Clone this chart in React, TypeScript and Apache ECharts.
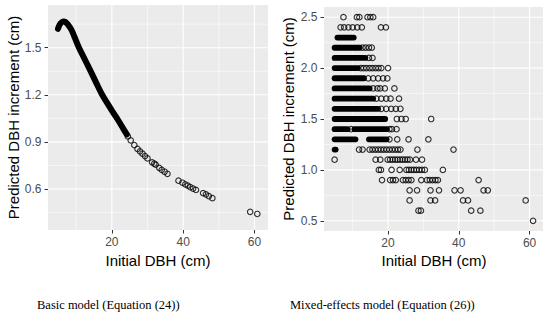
import React, { useEffect, useRef } from "react";
import * as echarts from "echarts";

// ---- Left panel: Basic model ----
// dense part of the predicted curve (read along the thick black band)
const basicCurveX = [4.9, 5.4, 6.0, 6.6, 7.3, 8.0, 8.7, 9.6, 10.8, 12.0, 13.5, 15.0, 16.2, 17.3, 18.5, 20.3, 22.0, 23.2, 24.2];
const basicCurveY = [1.62, 1.648, 1.663, 1.667, 1.657, 1.638, 1.613, 1.565, 1.5, 1.445, 1.376, 1.306, 1.25, 1.2, 1.155, 1.09, 1.03, 0.985, 0.948];
// separate points of the tail
const basicX = [24.5, 25.3, 26.3, 27.2, 27.9, 28.6, 29.3, 30.0, 31.3, 31.9, 32.3, 33.3, 34.0, 34.8, 35.6, 38.7, 39.8, 40.6, 41.3, 42.0, 42.8, 43.6, 45.6, 46.4, 47.2, 48.2, 58.8, 60.8];
const basicY = [0.935, 0.91, 0.88, 0.855, 0.84, 0.825, 0.81, 0.795, 0.77, 0.762, 0.755, 0.735, 0.722, 0.71, 0.697, 0.653, 0.64, 0.63, 0.622, 0.612, 0.603, 0.594, 0.574, 0.566, 0.555, 0.542, 0.455, 0.441];

// ---- Right panel: Mixed-effects model ----
const mixedRowValues = [2.5, 2.4, 2.2, 2.1, 2.0, 1.9, 1.8, 1.7, 1.6, 1.5, 1.4, 1.3, 1.2, 1.1, 1.0, 0.9, 0.8, 0.7, 0.6, 0.5];
const mixedRowX: number[][] = [
  [7.4, 11.2, 11.9, 14.2, 15.0, 15.8],
  [6.6, 7.6, 8.8, 10.0, 11.3, 12.6, 18.0, 19.4],
  [12.8, 13.7, 14.6, 15.4],
  [14.6, 15.6],
  [12.3, 13.1, 13.9, 14.8, 15.6, 16.5, 17.3, 18.1, 20.0],
  [14.4, 15.8, 17.2, 18.6, 19.8],
  [15.8, 17.0, 17.8, 19.1, 21.8],
  [16.7, 18.1, 19.5, 20.7, 23.1],
  [18.1, 19.5, 20.9, 22.2, 23.5],
  [22.5, 23.8, 25.0, 32.2],
  [9.6, 20.4, 21.1, 22.4],
  [20.4, 22.6, 25.8, 31.4],
  [11.8, 12.8, 14.8, 15.6, 16.4, 17.2, 18.0, 18.8, 19.6, 20.4, 21.2, 22.0, 22.8, 23.5, 28.3, 38.5],
  [4.9, 16.5, 17.8, 19.9, 20.6, 21.3, 22.0, 22.7, 23.4, 24.1, 24.8, 25.5, 26.2, 27.9, 29.6],
  [17.4, 18.0, 21.0, 23.3, 25.2, 25.9, 26.6, 27.3, 28.0, 28.8, 29.6, 30.4, 35.5],
  [18.3, 20.6, 21.4, 22.2, 24.2, 25.0, 25.8, 26.6, 29.4, 31.0, 31.8, 32.6, 33.4, 34.1, 45.6],
  [26.1, 28.2, 32.0, 34.4, 38.8, 40.5, 47.0, 48.2],
  [26.1, 32.0, 33.3, 41.2, 42.6, 58.9],
  [28.6, 29.3, 43.5, 46.1],
  [61.0],
];
// densely overplotted runs (solid black bands)
const mixedSegY = [2.3, 2.2, 2.1, 2.0, 1.9, 1.8, 1.7, 1.6, 1.5, 1.4, 1.4, 1.3, 1.3, 1.2];
const mixedSegStart = [5.7, 4.9, 4.9, 4.9, 4.9, 4.9, 4.9, 4.9, 4.9, 4.9, 10.5, 4.9, 14.6, 4.9];
const mixedSegEnd = [10.3, 12.0, 13.6, 11.5, 13.2, 14.8, 15.8, 17.2, 19.2, 8.6, 19.6, 10.8, 19.6, 5.2];

// ---- axes ----
const xTicks = [20, 40, 60];
const xMinor = [10, 30, 50];
const leftYTicks = [0.6, 0.9, 1.2, 1.5];
const leftYMinor = [0.45, 0.75, 1.05, 1.35, 1.65];
const rightYTicks = [0.5, 1.0, 1.5, 2.0, 2.5];
const rightYMinor = [0.75, 1.25, 1.75, 2.25];

const FONT = "Liberation Sans";

function gridLines(idx: number, xs: number[], xsMinor: number[], ys: number[], ysMinor: number[], xMid: number, yMid: number) {
  const data: number[][] = [
    ...xsMinor.map((v) => [v, yMid, 0, 1]),
    ...ysMinor.map((v) => [xMid, v, 0, 0]),
    ...xs.map((v) => [v, yMid, 1, 1]),
    ...ys.map((v) => [xMid, v, 1, 0]),
  ];
  return {
    type: "custom",
    xAxisIndex: idx,
    yAxisIndex: idx,
    z: 1,
    silent: true,
    data,
    renderItem: (params: any, api: any) => {
      const cs = params.coordSys;
      const p = api.coord([api.value(0), api.value(1)]);
      const major = api.value(2) === 1;
      const vertical = api.value(3) === 1;
      const shape = vertical
        ? { x1: p[0], y1: cs.y, x2: p[0], y2: cs.y + cs.height }
        : { x1: cs.x, y1: p[1], x2: cs.x + cs.width, y2: p[1] };
      return { type: "line", shape, style: { stroke: "#FFFFFF", lineWidth: major ? 1.1 : 0.55 } };
    },
  };
}

function xAxisCfg(idx: number, min: number, max: number) {
  return {
    type: "value",
    gridIndex: idx,
    min,
    max,
    axisLine: { show: false },
    splitLine: { show: false },
    axisTick: { show: true, length: 3.5, customValues: xTicks, lineStyle: { color: "#333333", width: 1 } },
    axisLabel: { customValues: xTicks, color: "#4D4D4D", fontSize: 12, margin: 6, fontFamily: FONT },
  };
}

function yAxisCfg(idx: number, min: number, max: number, ticks: number[]) {
  return {
    type: "value",
    gridIndex: idx,
    min,
    max,
    axisLine: { show: false },
    splitLine: { show: false },
    axisTick: { show: true, length: 3.5, customValues: ticks, lineStyle: { color: "#333333", width: 1 } },
    axisLabel: {
      customValues: ticks,
      color: "#4D4D4D",
      fontSize: 12,
      margin: 6.5,
      fontFamily: FONT,
      formatter: (v: number) => v.toFixed(1),
    },
  };
}

export default function App() {
  const ref = useRef<HTMLDivElement>(null);
  useEffect(() => {
    if (!ref.current) return;
    const chart = echarts.init(ref.current, undefined, { renderer: "svg" });

    const curveData = basicCurveX.map((x, i) => [x, basicCurveY[i]]);
    const basicPts = basicX.map((x, i) => [x, basicY[i]]);
    const mixedPts: number[][] = [];
    mixedRowValues.forEach((y, r) => mixedRowX[r].forEach((x) => mixedPts.push([x, y])));
    const segData = mixedSegY.map((y, i) => [mixedSegStart[i], y, mixedSegEnd[i]]);

    const pointStyle = { color: "rgba(0,0,0,0)", borderColor: "#000000", borderWidth: 1.15 };

    const option: any = {
      animation: false,
      textStyle: { fontFamily: FONT },
      grid: [
        { left: 48, top: 5, width: 220, height: 225, show: true, backgroundColor: "#EBEBEB", borderWidth: 0 },
        { left: 324, top: 7, width: 219, height: 224, show: true, backgroundColor: "#EBEBEB", borderWidth: 0 },
      ],
      xAxis: [xAxisCfg(0, 2.1, 63.8), xAxisCfg(1, 1.9, 63.8)],
      yAxis: [yAxisCfg(0, 0.339, 1.772, leftYTicks), yAxisCfg(1, 0.4, 2.6, rightYTicks)],
      series: [
        gridLines(0, xTicks, xMinor, leftYTicks, leftYMinor, 30, 1),
        gridLines(1, xTicks, xMinor, rightYTicks, rightYMinor, 30, 1.5),
        {
          type: "line",
          xAxisIndex: 0,
          yAxisIndex: 0,
          z: 2,
          data: curveData,
          smooth: true,
          symbol: "none",
          silent: true,
          lineStyle: { color: "#000000", width: 6, cap: "round" },
        },
        {
          type: "scatter",
          xAxisIndex: 0,
          yAxisIndex: 0,
          z: 3,
          data: basicPts,
          symbol: "circle",
          symbolSize: 5.5,
          itemStyle: pointStyle,
          silent: true,
        },
        {
          type: "custom",
          xAxisIndex: 1,
          yAxisIndex: 1,
          z: 2,
          silent: true,
          data: segData,
          renderItem: (params: any, api: any) => {
            const p1 = api.coord([api.value(0), api.value(1)]);
            const p2 = api.coord([api.value(2), api.value(1)]);
            return {
              type: "line",
              shape: { x1: p1[0], y1: p1[1], x2: p2[0], y2: p2[1] },
              style: { stroke: "#000000", lineWidth: 5.8, lineCap: "round" },
            };
          },
        },
        {
          type: "scatter",
          xAxisIndex: 1,
          yAxisIndex: 1,
          z: 3,
          data: mixedPts,
          symbol: "circle",
          symbolSize: 5.5,
          itemStyle: pointStyle,
          silent: true,
        },
      ],
      graphic: [
        { type: "text", x: 13, y: 117.5, rotation: Math.PI / 2, style: { text: "Predicted DBH increment (cm)", fontSize: 15, fontFamily: FONT, fill: "#000000", align: "center", verticalAlign: "middle" } },
        { type: "text", x: 288, y: 119, rotation: Math.PI / 2, style: { text: "Predicted DBH increment (cm)", fontSize: 15, fontFamily: FONT, fill: "#000000", align: "center", verticalAlign: "middle" } },
        { type: "text", x: 158, y: 260, style: { text: "Initial DBH (cm)", fontSize: 15, fontFamily: FONT, fill: "#000000", align: "center", verticalAlign: "middle" } },
        { type: "text", x: 434, y: 260, style: { text: "Initial DBH (cm)", fontSize: 15, fontFamily: FONT, fill: "#000000", align: "center", verticalAlign: "middle" } },
        { type: "text", x: 37, y: 305, style: { text: "Basic model (Equation (24))", fontSize: 12.5, fontFamily: "Liberation Serif", fill: "#000000", align: "left", verticalAlign: "middle" } },
        { type: "text", x: 290, y: 305, style: { text: "Mixed-effects model (Equation (26))", fontSize: 12.5, fontFamily: "Liberation Serif", fill: "#000000", align: "left", verticalAlign: "middle" } },
      ],
    };
    chart.setOption(option);
    return () => chart.dispose();
  }, []);
  return <div ref={ref} style={{ position: "absolute", left: 0, top: 0, width: 550, height: 324, background: "#FFFFFF" }} />;
}
